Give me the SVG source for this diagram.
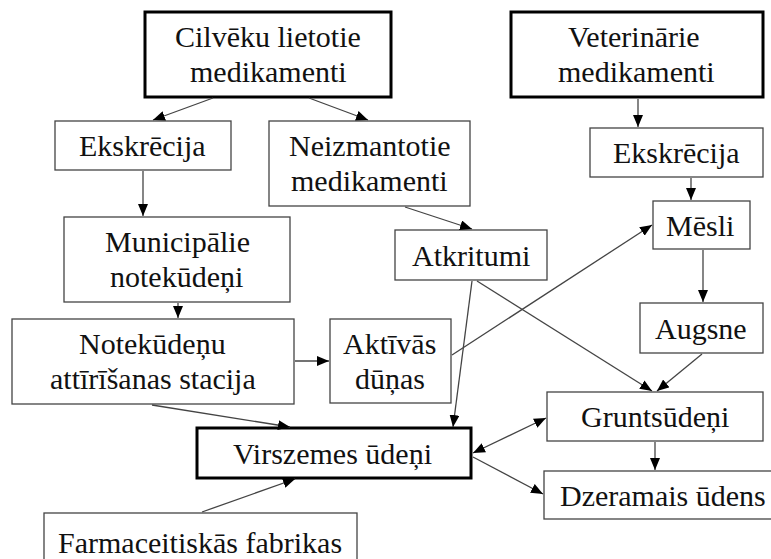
<svg xmlns="http://www.w3.org/2000/svg" width="771" height="559" viewBox="0 0 771 559">
<style>
.b{fill:#fff;stroke:#444;stroke-width:1.3}
.t{fill:#fff;stroke:#000;stroke-width:3}
.c line{stroke:#444;stroke-width:1.3;fill:none;marker-end:url(#a)}
</style>
<defs>
<marker id="a" markerUnits="userSpaceOnUse" markerWidth="12" markerHeight="10" refX="12" refY="5" orient="auto">
<path d="M0,0 L12,5 L0,10 z" fill="#000"/>
</marker>
<marker id="s" markerUnits="userSpaceOnUse" markerWidth="12" markerHeight="10" refX="0" refY="5" orient="auto">
<path d="M12,0 L0,5 L12,10 z" fill="#000"/>
</marker>
</defs>
<rect width="771" height="559" fill="#fff"/>
<g font-size="30" fill="#111">
<g id="cilveku"><rect class="t" x="145" y="12" width="246" height="85"/><text font-family="Liberation Serif" x="175" y="47">Cilvēku lietotie</text><text font-family="Liberation Serif" x="190" y="82">medikamenti</text></g>
<g id="veterinarie"><rect class="t" x="511" y="12" width="252" height="85"/><text font-family="Liberation Serif" x="568" y="47">Veterinārie</text><text font-family="Liberation Serif" x="558" y="82">medikamenti</text></g>
<g id="ekskrecija1"><rect class="b" x="55" y="121" width="176" height="49"/><text font-family="Liberation Serif" x="79" y="156">Ekskrēcija</text></g>
<g id="neizmantotie"><rect class="b" x="269" y="121" width="201" height="85"/><text font-family="Liberation Serif" x="289" y="156">Neizmantotie</text><text font-family="Liberation Serif" x="291" y="191">medikamenti</text></g>
<g id="ekskrecija2"><rect class="b" x="590" y="128" width="173" height="49"/><text font-family="Liberation Serif" x="613" y="163">Ekskrēcija</text></g>
<g id="mesli"><rect class="b" x="653" y="201" width="97" height="48"/><text font-family="Liberation Serif" x="666" y="236">Mēsli</text></g>
<g id="municipalie"><rect class="b" x="64" y="217" width="226" height="85"/><text font-family="Liberation Serif" x="105" y="252">Municipālie</text><text font-family="Liberation Serif" x="110" y="287">notekūdeņi</text></g>
<g id="atkritumi"><rect class="b" x="395" y="230" width="152" height="50"/><text font-family="Liberation Serif" x="412" y="266">Atkritumi</text></g>
<g id="augsne"><rect class="b" x="640" y="303" width="123" height="50"/><text font-family="Liberation Serif" x="655" y="339">Augsne</text></g>
<g id="attirisanas"><rect class="b" x="12" y="319" width="282" height="85"/><text font-family="Liberation Serif" x="79" y="354">Notekūdeņu</text><text font-family="Liberation Serif" x="50" y="389">attīrīšanas stacija</text></g>
<g id="aktivas"><rect class="b" x="330" y="319" width="121" height="84"/><text font-family="Liberation Serif" x="343" y="354">Aktīvās</text><text font-family="Liberation Serif" x="355" y="389">dūņas</text></g>
<g id="gruntsudeni"><rect class="b" x="547" y="392" width="216" height="49"/><text font-family="Liberation Serif" x="581" y="427">Gruntsūdeņi</text></g>
<g id="virszemes"><rect class="t" x="197" y="428" width="274" height="50"/><text font-family="Liberation Serif" x="233" y="464">Virszemes ūdeņi</text></g>
<g id="dzeramais"><rect class="b" x="544" y="471" width="230" height="48"/><text font-family="Liberation Serif" x="560" y="506">Dzeramais ūdens</text></g>
<g id="farmaceitiskas"><rect class="b" x="44" y="513" width="313" height="60"/><text font-family="Liberation Serif" x="58" y="553">Farmaceitiskās fabrikas</text></g>
</g>
<g class="c" id="connectors">
<line x1="213" y1="98" x2="153" y2="120"/>
<line x1="309" y1="98" x2="368" y2="120"/>
<line x1="143" y1="171" x2="143" y2="216"/>
<line x1="178" y1="303" x2="178" y2="318"/>
<line x1="295" y1="361" x2="329" y2="361"/>
<line x1="152" y1="405" x2="290" y2="427"/>
<line x1="202" y1="512" x2="295" y2="479"/>
<line x1="405" y1="207" x2="472" y2="229"/>
<line x1="452" y1="355" x2="652" y2="225"/>
<line x1="472" y1="281" x2="453" y2="427"/>
<line x1="477" y1="281" x2="652" y2="391"/>
<line x1="638" y1="99" x2="638" y2="127"/>
<line x1="691" y1="178" x2="691" y2="200"/>
<line x1="703" y1="250" x2="703" y2="302"/>
<line x1="702" y1="354" x2="657" y2="391"/>
<line x1="473" y1="453" x2="546" y2="418" marker-start="url(#s)"/>
<line x1="473" y1="457" x2="543" y2="494"/>
<line x1="655" y1="442" x2="655" y2="470"/>
</g>
</svg>
